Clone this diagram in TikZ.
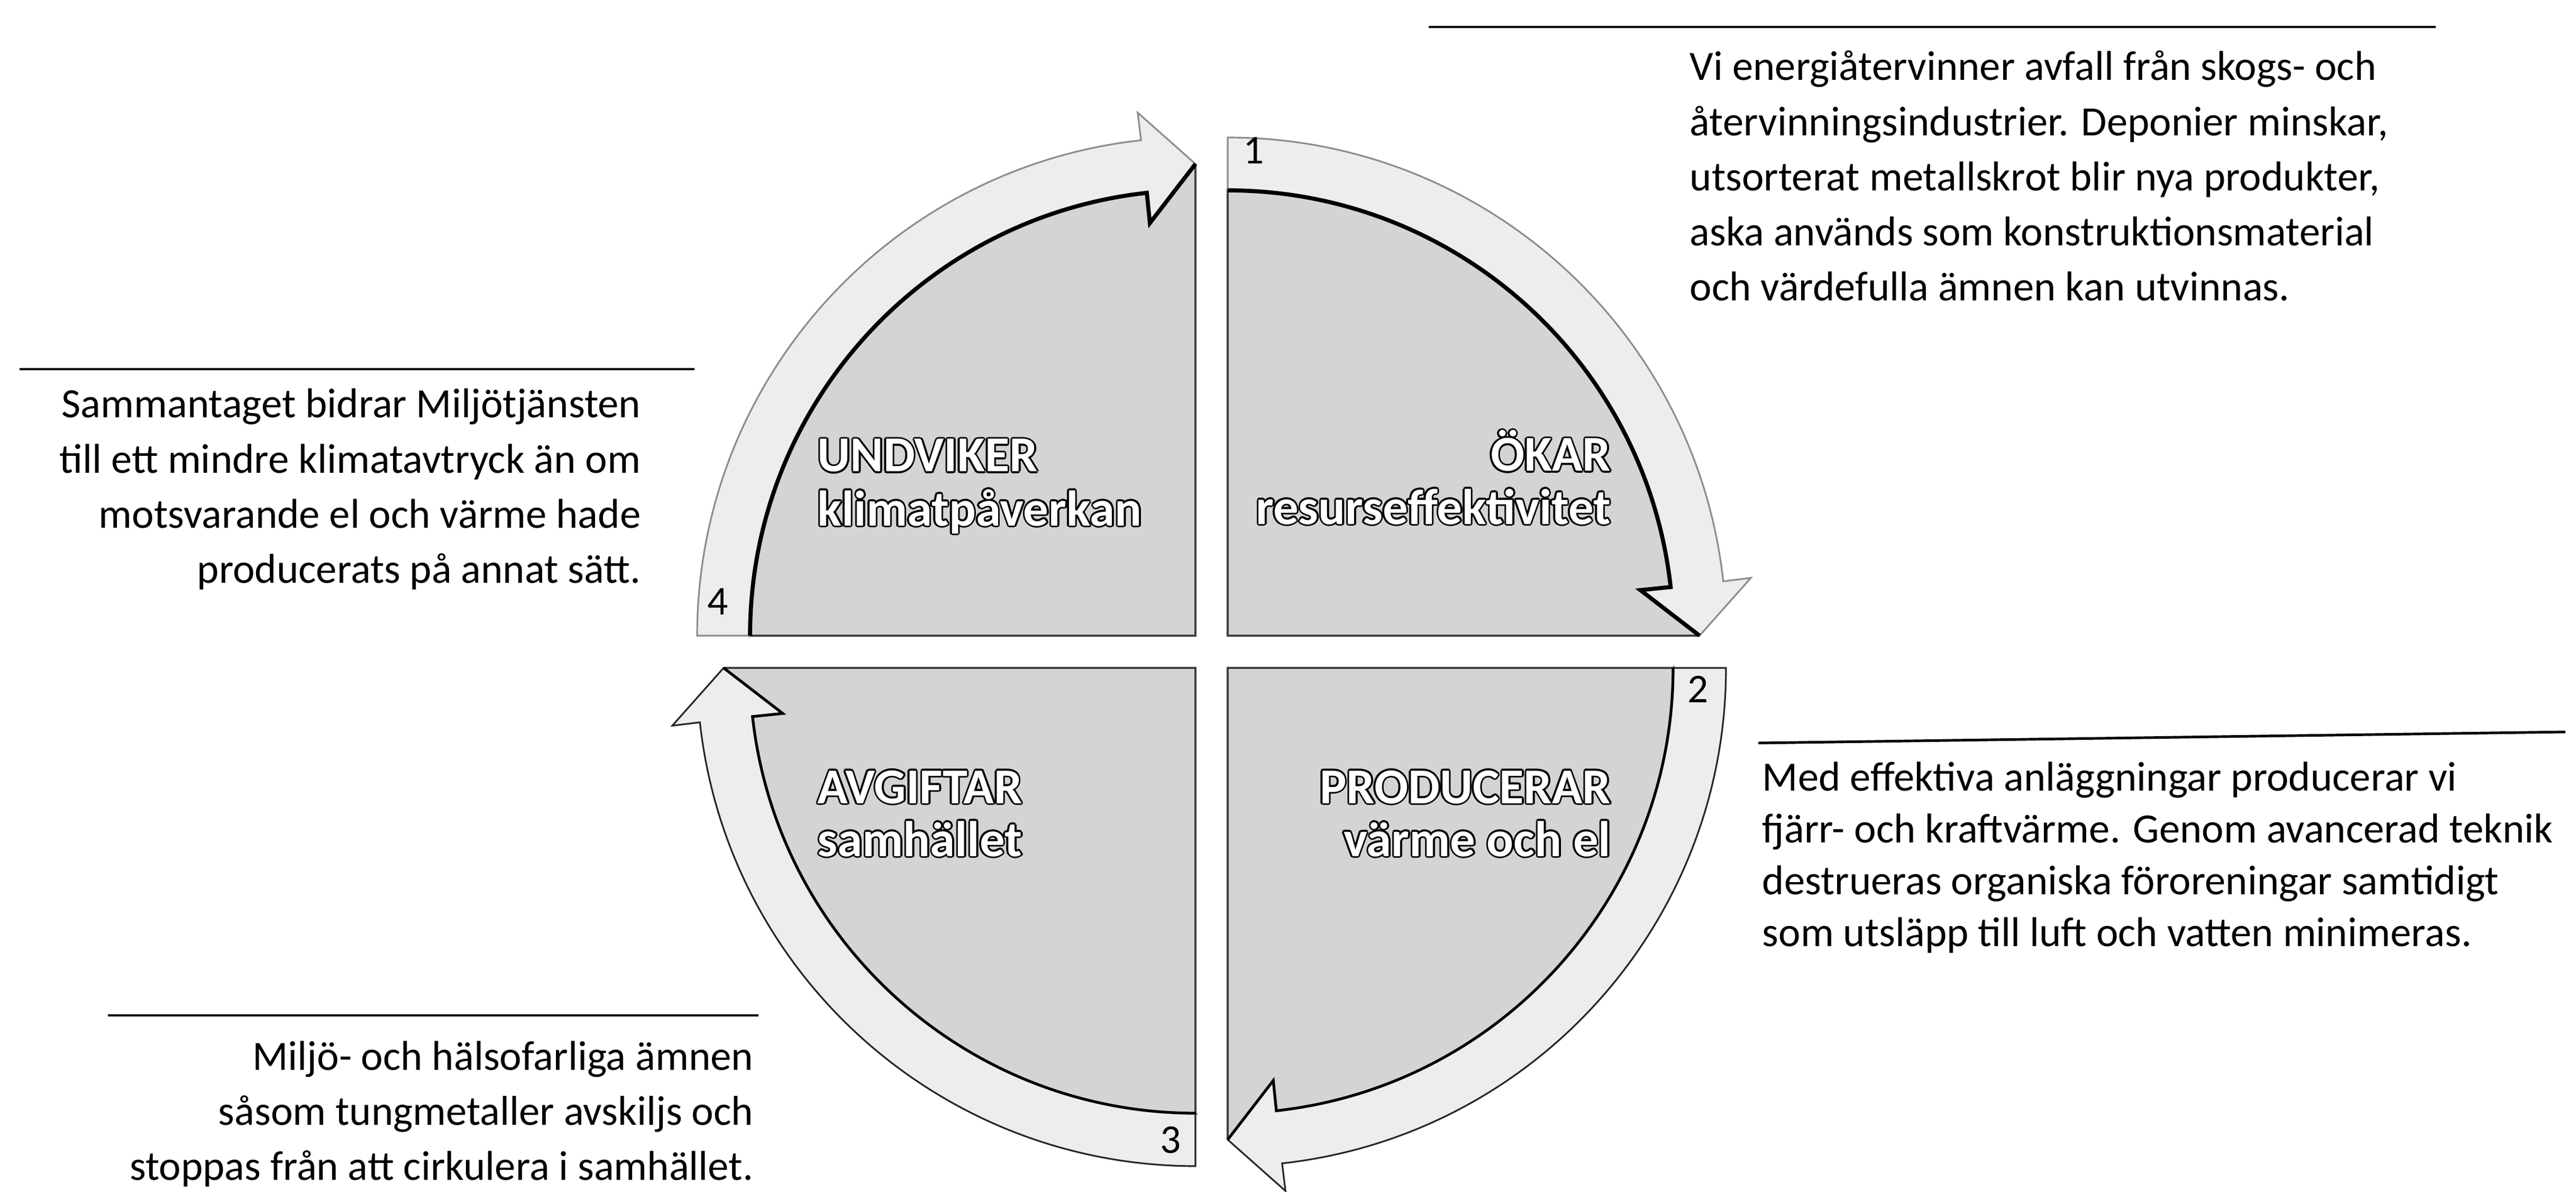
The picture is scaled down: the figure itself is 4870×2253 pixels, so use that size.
\documentclass[tikz,border=0pt]{standalone}
\usepackage{fontspec}
\setmainfont{Carlito}
\newcommand\olshift[3]{\makebox[0pt][l]{\hspace*{#1}\raisebox{#2}{#3}}}
\newcommand\outlined[1]{{\color{black}\olshift{1pt}{0pt}{#1}\olshift{-1pt}{0pt}{#1}\olshift{0pt}{1pt}{#1}\olshift{0pt}{-1pt}{#1}\olshift{.7pt}{.7pt}{#1}\olshift{-.7pt}{.7pt}{#1}\olshift{.7pt}{-.7pt}{#1}\olshift{-.7pt}{-.7pt}{#1}}\textcolor{white}{#1}}
\def\Rin{842}\def\Rout{942}\def\Rwi{785}\def\Rwo{995}\def\Rtip{892}\def\qdelta{6.3}
\def\Rincm{8.42cm}\def\Routcm{9.42cm}
\newcommand\drawquad[5]{%
\begin{scope}[shift={(#1,#2)}]
\pgfmathsetmacro\quadB{#3-90+\qdelta}
\pgfmathsetmacro\quadE{#3-90}
\filldraw[band, draw=#5] (#3:\Rin) -- (#3:\Rout) arc[start angle=#3, end angle=\quadB, radius=\Routcm] -- (\quadB:\Rwo) -- (\quadE:\Rtip) -- (\quadB:\Rwi) -- (\quadB:\Rin) arc[start angle=\quadB, end angle=#3, radius=\Rincm] -- cycle;
\fill[pie] (0,0) -- (#3:\Rin) arc[start angle=#3, end angle=\quadB, radius=\Rincm] -- (\quadB:\Rwi) -- (\quadE:\Rtip) -- cycle;
\draw[pieedge] (#3:\Rin) -- (0,0) -- (\quadE:\Rtip);
\draw[piearc, line width=#4] (#3:\Rin) arc[start angle=#3, end angle=\quadB, radius=\Rincm] -- (\quadB:\Rwi) -- (\quadE:\Rtip);
\end{scope}}
\begin{document}
\begin{tikzpicture}[x=0.01cm, y=0.01cm,
  band/.style={fill=black!7, line width=0.9pt},
  pie/.style={fill=black!17},
  pieedge/.style={draw=black!75, line width=1.1pt},
  piearc/.style={draw=black},
  num/.style={font=\fontsize{22}{22}\selectfont, inner sep=0},
  lbl/.style={font=\fontsize{27}{28.5}\selectfont\bfseries, inner sep=0},
  para/.style={font=\fontsize{22.4}{29.6}\selectfont, inner sep=0},
  hrule/.style={line width=1.4pt}]
\useasboundingbox[fill=white] (0,0) rectangle (4870,2253);

% quadrants: TL (4), TR (1), BR (2), BL (3)
\drawquad{2260}{1051}{180}{2.2pt}{black!45}
\drawquad{2321}{1051}{90}{2.2pt}{black!45}
\drawquad{2321}{990}{0}{1.5pt}{black!85}
\drawquad{2260}{990}{270}{1.5pt}{black!85}

% numbers
\node[num] (n1) at (2370,1968) {1};
\node[num] (n2) at (3210,950) {2};
\node[num] (n3) at (2213,97) {3};
\node[num] (n4) at (1357,1115) {4};

% quadrant labels
\node[lbl, anchor=base west] (l4) at (1545,1361) {\begin{tabular}[t]{@{}l@{}}\outlined{UNDVIKER}\\\outlined{klimatpåverkan}\end{tabular}};
\node[lbl, anchor=base east] (l1) at (3046,1362) {\begin{tabular}[t]{@{}r@{}}\outlined{ÖKAR}\\\outlined{resurseffektivitet}\end{tabular}};
\node[lbl, anchor=base east] (l2) at (3046,734) {\begin{tabular}[t]{@{}r@{}}\outlined{PRODUCERAR}\\\outlined{värme och el}\end{tabular}};
\node[lbl, anchor=base west] (l3) at (1545,734) {\begin{tabular}[t]{@{}l@{}}\outlined{AVGIFTAR}\\\outlined{samhället}\end{tabular}};

% rules
\coordinate (r1a) at (2701,2202); \coordinate (r1b) at (4605,2202);
\coordinate (r4a) at (37,1555);   \coordinate (r4b) at (1313,1555);
\coordinate (r3a) at (204,333);   \coordinate (r3b) at (1434,333);
\coordinate (r2a) at (3324,848);  \coordinate (r2b) at (4850,869);
\draw[hrule] (r1a) -- (r1b);
\draw[hrule] (r4a) -- (r4b);
\draw[hrule] (r3a) -- (r3b);
\draw[hrule] (r2a) -- (r2b);

% paragraphs
\node[para, anchor=base west] (t1) at (3194,2101) {\begin{tabular}[t]{@{}l@{}}Vi energiåtervinner avfall från skogs- och\\återvinningsindustrier. Deponier minskar,\\utsorterat metallskrot blir nya produkter,\\aska används som konstruktionsmaterial\\och värdefulla ämnen kan utvinnas.\end{tabular}};
\node[para, anchor=base east] (t4) at (1212,1463) {\begin{tabular}[t]{@{}r@{}}Sammantaget bidrar Miljötjänsten\\till ett mindre klimatavtryck än om\\motsvarande el och värme hade\\producerats på annat sätt.\end{tabular}};
\node[para, anchor=base east] (t3) at (1425,230) {\begin{tabular}[t]{@{}r@{}}Miljö- och hälsofarliga ämnen\\såsom tungmetaller avskiljs och\\stoppas från att cirkulera i samhället.\end{tabular}};
\node[para, font=\fontsize{22.4}{27.9}\selectfont, anchor=base west] (t2) at (3331,758) {\begin{tabular}[t]{@{}l@{}}Med effektiva anläggningar producerar vi\\fjärr- och kraftvärme. Genom avancerad teknik\\destrueras organiska föroreningar samtidigt\\som utsläpp till luft och vatten minimeras.\end{tabular}};
\end{tikzpicture}
\end{document}
